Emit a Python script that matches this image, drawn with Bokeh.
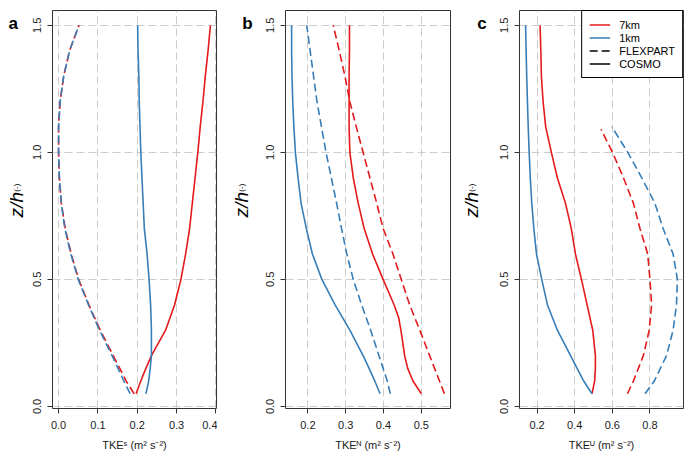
import math
from bokeh.plotting import figure
from bokeh.layouts import row
from bokeh.models import (FixedTicker, Range1d, Label, Legend, LegendItem,
                          NumeralTickFormatter)
from bokeh.embed import file_html
from bokeh.resources import INLINE

RED = "#E41A1C"
BLUE = "#377EB8"
FONT = "Liberation Sans"

# ---------------- data ----------------
z_flex = [0.05, 0.1, 0.2, 0.3, 0.4, 0.5, 0.6, 0.7, 0.8, 0.9, 1.0, 1.1, 1.2, 1.3, 1.4, 1.5]
z_cosmo = [0.05, 0.1, 0.15, 0.2, 0.3, 0.4, 0.5, 0.6, 0.7, 0.8, 0.9, 1.0, 1.1, 1.2, 1.3, 1.4, 1.5]

# panel a : TKE^S
a_flex_7km = [0.192, 0.172, 0.139, 0.106, 0.077, 0.051, 0.032, 0.017, 0.007, 0.002, 0.0, 0.0, 0.004, 0.013, 0.028, 0.052]
a_flex_1km = [0.182, 0.166, 0.136, 0.104, 0.076, 0.050, 0.031, 0.016, 0.007, 0.002, 0.0, 0.0, 0.004, 0.013, 0.028, 0.052]
a_cosmo_7km = [0.197, 0.209, 0.222, 0.236, 0.272, 0.295, 0.311, 0.323, 0.333, 0.340, 0.347, 0.354, 0.360, 0.367, 0.373, 0.380, 0.386]
a_cosmo_1km = [0.222, 0.229, 0.233, 0.236, 0.236, 0.234, 0.230, 0.225, 0.218, 0.215, 0.212, 0.209, 0.207, 0.205, 0.204, 0.202, 0.201]

# panel b : TKE^N
b_flex_7km = [0.561, 0.548, 0.522, 0.496, 0.469, 0.447, 0.425, 0.399, 0.382, 0.364, 0.346, 0.328, 0.311, 0.298, 0.283, 0.267]
b_flex_1km = [0.418, 0.410, 0.388, 0.366, 0.342, 0.320, 0.303, 0.289, 0.276, 0.262, 0.248, 0.236, 0.224, 0.215, 0.206, 0.197]
z_b_cosmo_7km = [0.05, 0.1, 0.15, 0.2, 0.3, 0.35, 0.4, 0.5, 0.6, 0.7, 0.8, 0.9, 1.0, 1.1, 1.2, 1.3, 1.4, 1.5]
b_cosmo_7km = [0.500, 0.478, 0.464, 0.456, 0.446, 0.440, 0.428, 0.399, 0.371, 0.349, 0.333, 0.320, 0.311, 0.309, 0.309, 0.309, 0.310, 0.310]
b_cosmo_1km = [0.391, 0.377, 0.362, 0.346, 0.311, 0.272, 0.237, 0.212, 0.196, 0.182, 0.174, 0.167, 0.163, 0.160, 0.158, 0.157, 0.157]

# panel c : TKE^U
z_c_flex_7km = [0.05, 0.1, 0.2, 0.3, 0.4, 0.5, 0.6, 0.7, 0.8, 0.9, 1.0, 1.09]
c_flex_7km = [0.680, 0.712, 0.765, 0.796, 0.809, 0.800, 0.788, 0.747, 0.712, 0.659, 0.601, 0.540]
z_c_flex_1km = [0.05, 0.1, 0.2, 0.3, 0.4, 0.5, 0.6, 0.7, 0.8, 0.9, 1.0, 1.1]
c_flex_1km = [0.774, 0.823, 0.888, 0.923, 0.941, 0.946, 0.923, 0.870, 0.826, 0.756, 0.682, 0.598]
c_cosmo_7km = [0.492, 0.506, 0.510, 0.510, 0.496, 0.466, 0.436, 0.404, 0.382, 0.351, 0.308, 0.276, 0.246, 0.232, 0.223, 0.220, 0.216]
c_cosmo_1km = [0.492, 0.448, 0.413, 0.378, 0.308, 0.255, 0.225, 0.197, 0.183, 0.172, 0.164, 0.158, 0.153, 0.149, 0.145, 0.142, 0.139]

x_ticks_a = [0.0, 0.1, 0.2, 0.3, 0.4]
x_ticks_b = [0.2, 0.3, 0.4, 0.5]
x_ticks_c = [0.2, 0.4, 0.6, 0.8]
y_ticks = [0.0, 0.5, 1.0, 1.5]

x_label_a = "TKEˢ (m² s⁻²)"
x_label_b = "TKEᴺ (m² s⁻²)"
x_label_c = "TKEᵁ (m² s⁻²)"
y_label_main = "z/h"
y_label_unit = "(-)"
panel_letters = ["a", "b", "c"]
legend_labels = ["7km", "1km", "FLEXPART", "COSMO"]


def padded(vals):
    lo, hi = min(vals), max(vals)
    pad = 0.04 * (hi - lo)
    return lo - pad, hi + pad


all_z = z_flex + z_cosmo
y_lo, y_hi = padded(all_z)

H = 457           # canvas height of every figure
TOP, BOTTOM = 10, 49


def strip(width, letter, letter_x, zlab_x):
    """Narrow text-only figure holding the panel letter and the y-axis title."""
    s = figure(width=width, height=H, output_backend="svg", toolbar_location=None,
               x_range=Range1d(0, width), y_range=Range1d(0, H),
               x_axis_type=None, y_axis_type=None,
               min_border_left=0, min_border_right=0, min_border_top=0, min_border_bottom=0)
    s.outline_line_color = None
    s.background_fill_color = "white"
    s.border_fill_color = "white"
    s.add_layout(Label(x=letter_x, y=H - 15, text=letter, text_font=FONT,
                       text_font_size="17px", text_font_style="bold", text_color="black",
                       text_baseline="alphabetic", text_align="left"))
    s.add_layout(Label(x=zlab_x, y=H - 223, text=y_label_main, angle=math.pi / 2,
                       text_font=FONT, text_font_size="19px", text_font_style="italic",
                       text_color="black", text_baseline="alphabetic", text_align="center"))
    s.add_layout(Label(x=zlab_x, y=H - 208, text=y_label_unit, angle=math.pi / 2,
                       text_font=FONT, text_font_size="8px", text_color="black",
                       text_baseline="alphabetic", text_align="left"))
    return s


def make_panel(series, xticks, xlabel, width, bl, br, with_legend=False):
    xs = []
    for s in series:
        xs += s[1]
    x_lo, x_hi = padded(xs)
    p = figure(width=width, height=H, output_backend="svg", toolbar_location=None,
               x_range=Range1d(x_lo, x_hi), y_range=Range1d(y_lo, y_hi),
               min_border_left=bl, min_border_right=br,
               min_border_top=TOP, min_border_bottom=BOTTOM)
    p.background_fill_color = "white"
    p.border_fill_color = "white"
    p.outline_line_color = "#333333"
    p.outline_line_width = 1
    p.outline_line_alpha = 1.0

    p.xaxis.ticker = FixedTicker(ticks=xticks)
    p.yaxis.ticker = FixedTicker(ticks=y_ticks)
    p.xaxis.formatter = NumeralTickFormatter(format="0.0")
    p.yaxis.formatter = NumeralTickFormatter(format="0.0")
    for ax in (p.xaxis[0], p.yaxis[0]):
        ax.axis_line_color = None
        ax.major_tick_line_color = "#333333"
        ax.major_tick_out = 5
        ax.major_tick_in = 0
        ax.minor_tick_line_color = None
        ax.major_label_text_font = FONT
        ax.major_label_text_font_size = "11px"
        ax.major_label_text_color = "#1a1a1a"
    p.xaxis.major_label_standoff = 7
    p.yaxis.major_label_standoff = 6
    p.yaxis.major_label_orientation = "vertical"
    p.xaxis.axis_label = xlabel
    p.xaxis.axis_label_text_font = FONT
    p.xaxis.axis_label_text_font_size = "11px"
    p.xaxis.axis_label_text_font_style = "normal"
    p.xaxis.axis_label_text_color = "#1a1a1a"
    p.xaxis.axis_label_standoff = 7

    for g in (p.xgrid[0], p.ygrid[0]):
        g.grid_line_color = "#cccccc"
        g.grid_line_dash = "8 4"
        g.grid_line_width = 1

    rends = {}
    for name, xv, zv, color, dash in series:
        r = p.line(xv, zv, line_color=color, line_width=1.6, line_dash=dash,
                   line_join="round", line_cap="butt")
        rends[name] = r

    if with_legend:
        d_flex = p.line([-5, -4], [-5, -4], line_color="black", line_width=1.6, line_dash="8 4")
        d_cosmo = p.line([-5, -4], [-5, -4], line_color="black", line_width=1.6)
        items = [LegendItem(label=legend_labels[0], renderers=[rends["c7"]]),
                 LegendItem(label=legend_labels[1], renderers=[rends["c1"]]),
                 LegendItem(label=legend_labels[2], renderers=[d_flex]),
                 LegendItem(label=legend_labels[3], renderers=[d_cosmo])]
        leg = Legend(items=items, location="top_right", margin=0, padding=7, spacing=0,
                     glyph_width=21, glyph_height=13, label_height=13, label_standoff=9,
                     label_text_font=FONT, label_text_font_size="11px",
                     label_text_color="black", border_line_color="black",
                     border_line_width=1, border_line_alpha=1.0,
                     background_fill_color="white", background_fill_alpha=1.0)
        p.add_layout(leg)
    return p


sa = strip(28, panel_letters[0], 8, 16)
pa = make_panel([("f7", a_flex_7km, z_flex, RED, "8 4"),
                 ("f1", a_flex_1km, z_flex, BLUE, "8 4"),
                 ("c7", a_cosmo_7km, z_cosmo, RED, "solid"),
                 ("c1", a_cosmo_1km, z_cosmo, BLUE, "solid")],
                x_ticks_a, x_label_a, 189, 24, 1)
sb = strip(39, panel_letters[1], 24.7, 23.7)
pb = make_panel([("f7", b_flex_7km, z_flex, RED, "8 4"),
                 ("f1", b_flex_1km, z_flex, BLUE, "8 4"),
                 ("c7", b_cosmo_7km, z_b_cosmo_7km, RED, "solid"),
                 ("c1", b_cosmo_1km, z_cosmo, BLUE, "solid")],
                x_ticks_b, x_label_b, 195, 29, 1)
sc = strip(42, panel_letters[2], 25.7, 19.7)
pc = make_panel([("f7", c_flex_7km, z_c_flex_7km, RED, "8 4"),
                 ("f1", c_flex_1km, z_c_flex_1km, BLUE, "8 4"),
                 ("c7", c_cosmo_7km, z_cosmo, RED, "solid"),
                 ("c1", c_cosmo_1km, z_cosmo, BLUE, "solid")],
                x_ticks_c, x_label_c, 191, 26, 1, with_legend=True)

layout = row(sa, pa, sb, pb, sc, pc)
open("out.html", "w").write(file_html(layout, INLINE))
